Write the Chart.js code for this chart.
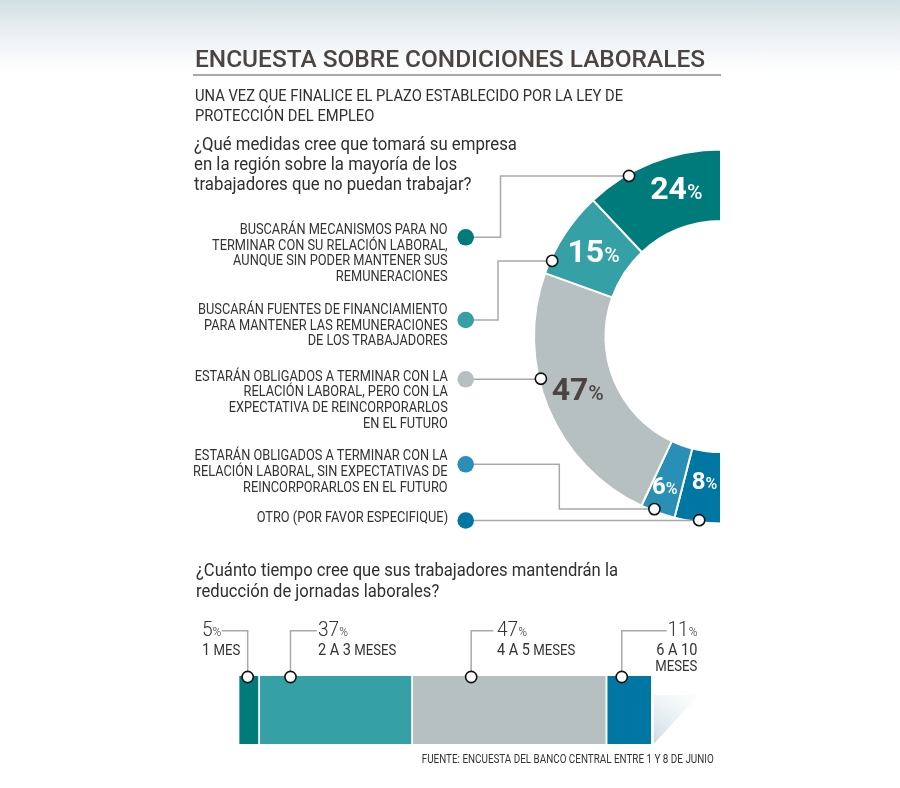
<!DOCTYPE html>
<html>
<head>
<meta charset="utf-8">
<script src="https://cdn.jsdelivr.net/npm/chart.js@4.4.0/dist/chart.umd.min.js"></script>
<style>
  body { margin: 0; background: #fff; }
  #page {
    position: relative; width: 900px; height: 788px; overflow: hidden;
    background: linear-gradient(to bottom, #d2dfe4 0px, #e9eff1 32px, #f8fafb 58px, #ffffff 75px);
    font-family: Roboto, "Noto Sans", sans-serif; color: #2f2f2f;
  }
  canvas { position: absolute; left: 0; }
  .t { position: absolute; white-space: nowrap; z-index: 2; }
  .left { transform-origin: 0 0; }
  .right { transform-origin: 100% 0; text-align: right; }
  .lab { font-size: 15.5px; line-height: 15.7px; color: #333; }
  .num { font-size: 21px; line-height: 21px; font-weight: 300; color: #333; }
  .num .pc { font-size: 13px; }
  .sub { font-size: 14.5px; line-height: 15.7px; color: #333; }
  .sub .d { font-size: 16px; }
</style>
</head>
<body>
<div id="page">
  <canvas id="donut" width="900" height="560" style="top:0"></canvas>
  <canvas id="bars" width="900" height="228" style="top:560px"></canvas>

  <div class="t left" id="title" style="left:195px;top:46.5px;font-size:24px;line-height:24px;font-weight:500;color:#4a4541"><span class="ref">ENCUESTA SOBRE CONDICIONES LABORALES</span></div>
  <div style="position:absolute;left:193px;top:74px;width:528px;height:2px;background:#a9a9a9"></div>

  <div class="t left" id="sub" style="left:195px;top:86px;font-size:17px;line-height:19.5px">
    <div><span class="ref">UNA VEZ QUE FINALICE EL PLAZO ESTABLECIDO POR LA LEY DE</span></div>
    <div>PROTECCIÓN DEL EMPLEO</div>
  </div>

  <div class="t left" id="q1" style="left:194px;top:133.5px;font-size:19px;line-height:20px">
    <div><span class="ref">¿Qué medidas cree que tomará su empresa</span></div>
    <div>en la región sobre la mayoría de los</div>
    <div>trabajadores que no puedan trabajar?</div>
  </div>

  <div class="t right lab" id="L1" style="right:452px;top:221.9px">
    <div>BUSCARÁN MECANISMOS PARA NO</div>
    <div>TERMINAR CON SU RELACIÓN LABORAL,</div>
    <div>AUNQUE SIN PODER MANTENER SUS</div>
    <div>REMUNERACIONES</div>
  </div>
  <div class="t right lab" id="L2" style="right:452px;top:301.9px">
    <div>BUSCARÁN FUENTES DE FINANCIAMIENTO</div>
    <div>PARA MANTENER LAS REMUNERACIONES</div>
    <div>DE LOS TRABAJADORES</div>
  </div>
  <div class="t right lab" id="L3" style="right:452px;top:368.5px">
    <div><span class="ref">ESTARÁN OBLIGADOS A TERMINAR CON LA</span></div>
    <div>RELACIÓN LABORAL, PERO CON LA</div>
    <div>EXPECTATIVA DE REINCORPORARLOS</div>
    <div>EN EL FUTURO</div>
  </div>
  <div class="t right lab" id="L4" style="right:452px;top:446.8px;line-height:16px">
    <div>ESTARÁN OBLIGADOS A TERMINAR CON LA</div>
    <div>RELACIÓN LABORAL, SIN EXPECTATIVAS DE</div>
    <div>REINCORPORARLOS EN EL FUTURO</div>
  </div>
  <div class="t right lab" id="L5" style="right:452px;top:510.2px">
    <div>OTRO (POR FAVOR ESPECIFIQUE)</div>
  </div>

  <div class="t left" id="q2" style="left:196px;top:559px;font-size:19px;line-height:21px">
    <div><span class="ref">¿Cuánto tiempo cree que sus trabajadores mantendrán la</span></div>
    <div>reducción de jornadas laborales?</div>
  </div>

  <div class="t left" id="B1" style="left:201.7px;top:619.3px">
    <div class="num">5<span class="pc">%</span></div>
    <div class="sub"><span class="d">1</span> MES</div>
  </div>
  <div class="t left" id="B2" style="left:318.3px;top:619.3px">
    <div class="num">37<span class="pc">%</span></div>
    <div class="sub"><span class="ref"><span class="d">2 A 3</span> MESES</span></div>
  </div>
  <div class="t left" id="B3" style="left:496.7px;top:619.3px">
    <div class="num">47<span class="pc">%</span></div>
    <div class="sub"><span class="d">4 A 5</span> MESES</div>
  </div>
  <div class="t right" id="B4" style="right:202.7px;top:619.3px">
    <div class="num">11<span class="pc">%</span></div>
    <div class="sub"><span class="d">6 A 10</span></div>
    <div class="sub">MESES</div>
  </div>

  <div class="t right" id="src" style="right:186.7px;top:752.4px;font-size:13px;line-height:13px;color:#333"><span class="ref">FUENTE: ENCUESTA DEL BANCO CENTRAL ENTRE 1 Y 8 DE JUNIO</span></div>
</div>

<script>
// Donut: answers read top to bottom
const donutCategories = [
  'Buscarán mecanismos para no terminar con su relación laboral',
  'Buscarán fuentes de financiamiento',
  'Obligados a terminar, con expectativa de reincorporarlos',
  'Obligados a terminar, sin expectativas de reincorporarlos',
  'Otro'
];
const donutValues = [24, 15, 47, 6, 8];
const donutColors = ['#007b7b', '#35a0a5', '#b7c0c1', '#2a8fb4', '#0077a3'];

// Stacked bar: how long the reduced hours will last
const barCategories = ['1 MES', '2 A 3 MESES', '4 A 5 MESES', '6 A 10 MESES'];
const barValues = [5, 37, 47, 11];
const barColors = ['#007b7b', '#35a0a5', '#b7c0c1', '#0077a3'];

// layout of leaders (page pixels) and where the marker sits along each arc
const dotX = 465.7;
const donutLeaders = [
  { dotY: 237.3, elbowX: 500.5, at: 0.31 },
  { dotY: 320, elbowX: 498, at: 0.16 },
  { dotY: 379.3, at: 0.61 },
  { dotY: 464.3, elbowX: 559.3, at: 0.62 },
  { dotY: 520.5, at: 0.47 }
];
const pctStyle = [
  { dx: 11, dy: -8, big: 32, small: 21, color: '#fff' },
  { dx: -1, dy: -3, big: 32, small: 21, color: '#fff' },
  { dx: -3.5, dy: -6, big: 32, small: 21, color: '#4a4540' },
  { dx: -5, dy: 7, big: 24, small: 16, color: '#fff' },
  { dx: 2.5, dy: -6, big: 24, small: 16, color: '#fff' }
];

function drawMarker(ctx, x, y) {
  ctx.beginPath();
  ctx.arc(x, y, 5.6, 0, Math.PI * 2);
  ctx.fillStyle = '#fff';
  ctx.fill();
  ctx.lineWidth = 1.6;
  ctx.strokeStyle = '#111';
  ctx.stroke();
}

const donutDecor = {
  id: 'donutDecor',
  afterDatasetsDraw(chart) {
    const ctx = chart.ctx;
    const arcs = chart.getDatasetMeta(0).data;
    const n = arcs.length;
    ctx.save();
    donutValues.forEach((v, i) => {
      const arc = arcs[n - 1 - i];
      const p = arc.getProps(['x', 'y', 'startAngle', 'endAngle', 'outerRadius'], true);
      const lead = donutLeaders[i];
      const a = p.startAngle + lead.at * (p.endAngle - p.startAngle);
      const mx = p.x + Math.cos(a) * (p.outerRadius - 2);
      const my = p.y + Math.sin(a) * (p.outerRadius - 2);

      ctx.strokeStyle = '#a9a9a9';
      ctx.lineWidth = 1.5;
      ctx.beginPath();
      ctx.moveTo(dotX, lead.dotY);
      if (lead.elbowX) {
        ctx.lineTo(lead.elbowX, lead.dotY);
        ctx.lineTo(lead.elbowX, my);
        ctx.lineTo(mx, my);
      } else {
        ctx.lineTo(mx, lead.dotY);
      }
      ctx.stroke();
      drawMarker(ctx, mx, my);

      ctx.beginPath();
      ctx.arc(dotX, lead.dotY, 8.3, 0, Math.PI * 2);
      ctx.fillStyle = donutColors[i];
      ctx.fill();

      // percentage label, smaller % sign
      const s = pctStyle[i];
      const c = arc.getCenterPoint(true);
      const cx = c.x + s.dx, cy = c.y + s.dy;
      ctx.font = `bold ${s.big}px Roboto`;
      const w1 = ctx.measureText(String(v)).width;
      ctx.font = `500 ${s.small}px Roboto`;
      const w2 = ctx.measureText('%').width;
      const x0 = cx - (w1 + w2) / 2;
      const base = cy + s.big * 0.711 / 2;
      ctx.fillStyle = s.color;
      ctx.textBaseline = 'alphabetic';
      ctx.textAlign = 'left';
      ctx.font = `bold ${s.big}px Roboto`;
      ctx.fillText(String(v), x0, base);
      ctx.font = `500 ${s.small}px Roboto`;
      ctx.fillText('%', x0 + w1, base);
    });
    ctx.restore();
  }
};

new Chart(document.getElementById('donut'), {
  type: 'doughnut',
  data: {
    labels: donutCategories.slice().reverse(),
    datasets: [{
      data: donutValues.slice().reverse(),
      backgroundColor: donutColors.slice().reverse(),
      borderColor: '#ffffff',
      borderWidth: 2
    }]
  },
  options: {
    responsive: false,
    animation: false,
    events: [],
    rotation: 180,
    circumference: 180,
    cutout: '61.8%',
    layout: { padding: { left: 533, right: 178, top: 148.5, bottom: 35.5 } },
    plugins: { legend: { display: false }, tooltip: { enabled: false } }
  },
  plugins: [donutDecor]
});

// bar markers: position along each segment and where the bracket ends (page x)
const barMarks = [
  { at: 0.41, to: 221.7 },
  { at: 0.2, to: 316.7 },
  { at: 0.3, to: 493.3 },
  { at: 0.32, to: 666.7 }
];
const bracketY = 630.7 - 560;

const barDecor = {
  id: 'barDecor',
  beforeDatasetsDraw(chart) {
    const ctx = chart.ctx;
    const area = chart.chartArea;
    const last = chart.getDatasetMeta(barValues.length - 1).data[0];
    const x = last.x - 1;
    ctx.save();
    const g = ctx.createLinearGradient(x, area.bottom, x + 40, area.top + 15);
    g.addColorStop(0, 'rgba(196,214,221,0.95)');
    g.addColorStop(1, 'rgba(240,245,247,0.2)');
    ctx.fillStyle = g;
    ctx.beginPath();
    ctx.moveTo(x + 2, area.bottom);
    ctx.lineTo(x + 47, area.top + 19);
    ctx.lineTo(x + 2, area.top + 19);
    ctx.closePath();
    ctx.fill();
    ctx.restore();
  },
  afterDatasetsDraw(chart) {
    const ctx = chart.ctx;
    ctx.save();
    barValues.forEach((v, i) => {
      const bar = chart.getDatasetMeta(i).data[0];
      const p = bar.getProps(['x', 'y', 'base', 'height'], true);
      const mx = p.base + barMarks[i].at * (p.x - p.base);
      const top = p.y - p.height / 2;
      ctx.strokeStyle = '#a9a9a9';
      ctx.lineWidth = 1.5;
      ctx.beginPath();
      ctx.moveTo(mx, top);
      ctx.lineTo(mx, bracketY);
      ctx.lineTo(barMarks[i].to, bracketY);
      ctx.stroke();
      drawMarker(ctx, mx, top + 1);
    });
    ctx.restore();
  }
};

new Chart(document.getElementById('bars'), {
  type: 'bar',
  data: {
    labels: [''],
    datasets: barValues.map((v, i) => ({
      label: barCategories[i],
      data: [v],
      backgroundColor: barColors[i],
      borderColor: '#ffffff',
      borderWidth: { left: 0, top: 0, bottom: 0, right: 2 },
      borderSkipped: false,
      barPercentage: 1,
      categoryPercentage: 1
    }))
  },
  options: {
    indexAxis: 'y',
    responsive: false,
    animation: false,
    events: [],
    layout: { padding: { left: 239.2, right: 247.3, top: 116, bottom: 44 } },
    scales: {
      x: { stacked: true, min: 0, max: 100, display: false },
      y: { stacked: true, display: false }
    },
    plugins: { legend: { display: false }, tooltip: { enabled: false } }
  },
  plugins: [barDecor]
});

// squeeze the text horizontally so it matches the condensed face of the original
function widthOf(id) {
  return document.getElementById(id).querySelector('.ref').getBoundingClientRect().width;
}
function squeeze(ids, k) {
  ids.forEach(id => { document.getElementById(id).style.transform = `scaleX(${k})`; });
}
const kTitle = 510 / widthOf('title');
const kSub = 428 / widthOf('sub');
const kQ1 = 323 / widthOf('q1');
const kLab = 253 / widthOf('L3');
const kQ2 = 422 / widthOf('q2');
const kBar = 78.4 / widthOf('B2');
const kSrc = 292 / widthOf('src');
squeeze(['title'], kTitle);
squeeze(['sub'], kSub);
squeeze(['q1'], kQ1);
squeeze(['L1', 'L2', 'L3', 'L4', 'L5'], kLab);
squeeze(['q2'], kQ2);
squeeze(['B1', 'B2', 'B3', 'B4'], kBar);
squeeze(['src'], kSrc);
</script>
</body>
</html>
